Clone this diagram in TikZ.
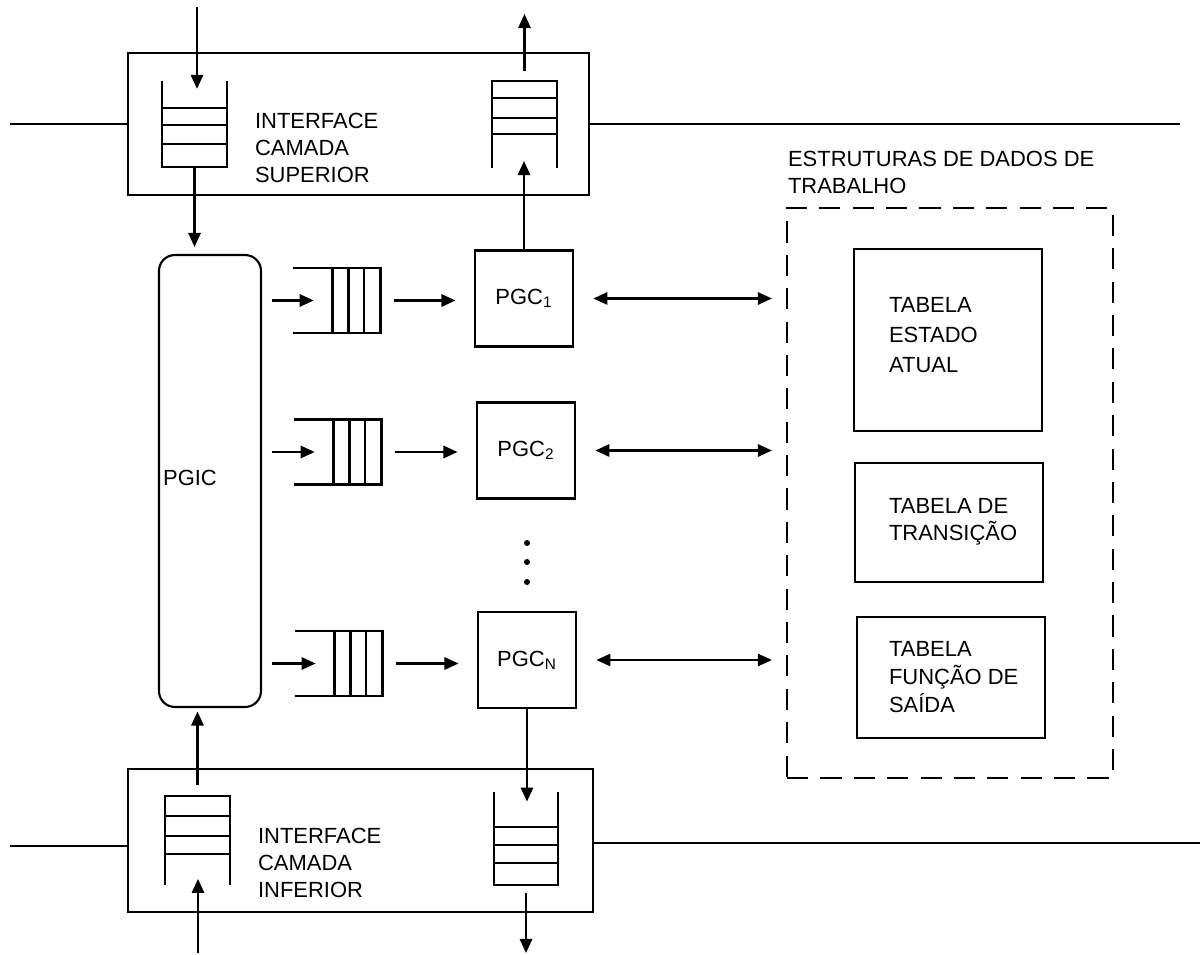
\documentclass[tikz,border=0pt]{standalone}
\usepackage{fontspec}
\setmainfont{Liberation Sans}
\usetikzlibrary{arrows.meta,positioning}

\begin{document}
\begin{tikzpicture}[
    x=0.02cm, y=-0.02cm,
    line width=1.2pt,
    every node/.style={font=\fontsize{12.5}{15.5}\selectfont, inner sep=0pt},
    box/.style={draw, rectangle},
    proc/.style={draw, minimum width=1.96cm, minimum height=1.92cm},
    queue/.style={minimum width=1.26cm},
    hqueue/.style={minimum width=1.7cm, minimum height=1.26cm},
    workbox/.style={draw, dash pattern=on 12pt off 7pt, minimum width=6.52cm, minimum height=11.4cm},
    tablebox/.style={draw, minimum width=3.76cm},
    txt/.style={align=left, anchor=west},
    arr/.style={-{Triangle[length=8pt,width=7pt]}},
    arrs/.style={{Triangle[length=8pt,width=7pt]}-{Triangle[length=8pt,width=7pt]}}
]
\useasboundingbox (0,0) rectangle (1200,955);

% upper layer interface
\node[box, minimum width=9.22cm, minimum height=2.84cm] (top_iface) at (358.5,124) {};
\node[txt] (top_label) at (254,148) {INTERFACE\\CAMADA\\SUPERIOR};
\node[queue, minimum height=1.68cm] (tq_in) at (194.5,124) {};
\node[queue, minimum height=1.70cm] (tq_out) at (524.5,124.5) {};
\draw (tq_in.north west) -- (tq_in.south west) -- (tq_in.south east) -- (tq_in.north east);
\draw (163,108) -- (226,108) (163,125) -- (226,125) (163,144) -- (226,144);
\draw (tq_out.south west) -- (tq_out.north west) -- (tq_out.north east) -- (tq_out.south east);
\draw (493,98) -- (556,98) (493,118) -- (556,118) (493,134) -- (556,134);

\coordinate (net_tl) at (10,124);
\coordinate (net_tr) at (1180,124);
\coordinate (src_top) at (197,7);
\coordinate (dst_top) at (526,14);
\draw (net_tl) -- (top_iface.west);
\draw (top_iface.east) -- (net_tr);

% PGIC
\node[draw, rounded corners=9pt, minimum width=2.04cm, minimum height=9.04cm] (pgic) at (210,481) {};
\node (pgic_label) at (190,478) {PGIC};

% queues and PGCs
\node[hqueue] (q1) at (337,300.5) {};
\node[hqueue] (q2) at (338,452) {};
\node[hqueue] (q3) at (339,663.5) {};
\draw (q1.north west) -- (q1.north east) -- (q1.south east) -- (q1.south west);
\draw ([xshift=0.78cm]q1.north west) -- ([xshift=0.78cm]q1.south west) ([xshift=1.1cm]q1.north west) -- ([xshift=1.1cm]q1.south west) ([xshift=1.42cm]q1.north west) -- ([xshift=1.42cm]q1.south west);
\draw (q2.north west) -- (q2.north east) -- (q2.south east) -- (q2.south west);
\draw ([xshift=0.78cm]q2.north west) -- ([xshift=0.78cm]q2.south west) ([xshift=1.1cm]q2.north west) -- ([xshift=1.1cm]q2.south west) ([xshift=1.42cm]q2.north west) -- ([xshift=1.42cm]q2.south west);
\draw (q3.north west) -- (q3.north east) -- (q3.south east) -- (q3.south west);
\draw ([xshift=0.78cm]q3.north west) -- ([xshift=0.78cm]q3.south west) ([xshift=1.1cm]q3.north west) -- ([xshift=1.1cm]q3.south west) ([xshift=1.42cm]q3.north west) -- ([xshift=1.42cm]q3.south west);

\node[proc] (pgc1) at (524,298.5) {PGC\textsubscript{1}};
\node[proc] (pgc2) at (526,450.5) {PGC\textsubscript{2}};
\node[proc] (pgcn) at (527,660) {PGC\textsubscript{N}};
\fill (527,543) circle (1.7pt) (527,562) circle (1.7pt) (527,582) circle (1.7pt);

% working data structures
\node[workbox] (work) at (950,493) {};
\node[txt] (work_label) at (787,172.5) {ESTRUTURAS DE DADOS DE\\TRABALHO};
\node[tablebox, minimum height=3.64cm] (tab_state) at (948,340) {};
\node[tablebox, minimum height=2.38cm] (tab_trans) at (949,522.5) {};
\node[tablebox, minimum height=2.42cm] (tab_out) at (951,677.5) {};
\node[txt, font=\fontsize{12.5}{17}\selectfont] (state_label) at (888,335) {TABELA\\ESTADO\\ATUAL};
\node[txt] (trans_label) at (888,522) {TABELA DE\\TRANSIÇÃO};
\node[txt, font=\fontsize{12.5}{16}\selectfont] (out_label) at (888,677) {TABELA\\FUNÇÃO DE\\SAÍDA};

% lower layer interface
\node[box, minimum width=9.3cm, minimum height=2.86cm] (bot_iface) at (360.5,840.5) {};
\node[txt] (bot_label) at (257,863) {INTERFACE\\CAMADA\\INFERIOR};
\node[queue, minimum height=1.74cm] (bq_up) at (197.5,840.5) {};
\node[queue, minimum height=1.82cm, minimum width=1.24cm] (bq_down) at (526,838.5) {};
\draw (bq_up.south west) -- (bq_up.north west) -- (bq_up.north east) -- (bq_up.south east);
\draw (166,816) -- (229,816) (166,836) -- (229,836) (166,854) -- (229,854);
\draw (bq_down.north west) -- (bq_down.south west) -- (bq_down.south east) -- (bq_down.north east);
\draw (495,827) -- (557,827) (495,845) -- (557,845) (495,863) -- (557,863);

\coordinate (net_bl) at (10,846);
\coordinate (net_br) at (1200,843);
\coordinate (src_bot) at (198,953);
\coordinate (dst_bot) at (526,953);
\draw (net_bl) -- (net_bl -| bot_iface.west);
\draw (bot_iface.east |- net_br) -- (net_br);

% connectors
\draw[arr, shorten >=-4.5pt] (src_top) -- (src_top |- tq_in.north);
\draw[arr, shorten >=4pt] (tq_in.south) -- (tq_in.south |- pgic.north);
\draw[arr, shorten <=5.5pt] (tq_out.north) -- (tq_out.north |- dst_top);
\draw[arr, shorten >=-4pt] (pgc1.north) -- (pgc1.north |- tq_out.south);

\draw[arr, shorten <=5.5pt, shorten >=-11.5pt] (pgic.east |- q1.west) -- (q1.west);
\draw[arr, shorten <=5.5pt, shorten >=-11.5pt] (pgic.east |- q2.west) -- (q2.west);
\draw[arr, shorten <=5.5pt, shorten >=-11.5pt] (pgic.east |- q3.west) -- (q3.west);
\draw[arr, shorten <=7.5pt, shorten >=10.5pt] (q1.east) -- (q1.east -| pgc1.west);
\draw[arr, shorten <=7.5pt, shorten >=10.5pt] (q2.east) -- (q2.east -| pgc2.west);
\draw[arr, shorten <=7.5pt, shorten >=10.5pt] (q3.east) -- (q3.east -| pgcn.west);

\draw[arrs, shorten <=11pt, shorten >=8pt] (pgc1.east) -- (pgc1.east -| work.west);
\draw[arrs, shorten <=11pt, shorten >=8pt] (pgc2.east) -- (pgc2.east -| work.west);
\draw[arrs, shorten <=11pt, shorten >=8pt] (pgcn.east) -- (pgcn.east -| work.west);

\draw[arr, shorten >=-3.5pt] (src_bot) -- (src_bot |- bq_up.south);
\draw[arr, shorten <=6.5pt, shorten >=2pt] (bq_up.north) -- (bq_up.north |- pgic.south);
\draw[arr, shorten >=-5.5pt] (pgcn.south) -- (pgcn.south |- bq_down.north);
\draw[arr, shorten <=4.5pt] (bq_down.south) -- (bq_down.south |- dst_bot);

\end{tikzpicture}
\end{document}
